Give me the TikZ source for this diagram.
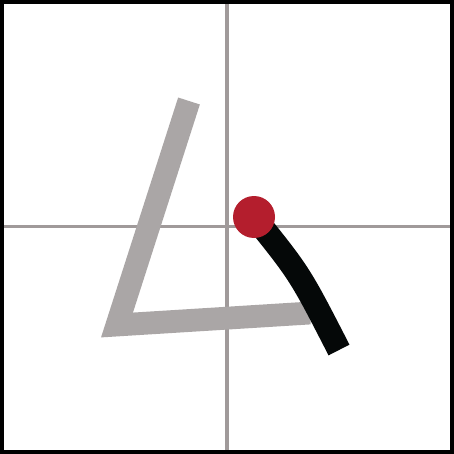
\documentclass[tikz,border=0pt]{standalone}
\definecolor{gridgray}{RGB}{160,154,154}
\definecolor{strokegray}{RGB}{170,166,166}
\definecolor{strokeblack}{RGB}{5,8,8}
\definecolor{dotred}{RGB}{180,30,45}
\tikzset{
  gridline/.style={draw=gridgray, line width=3.6pt},
  donestroke/.style={draw=strokegray, line width=22.8pt, line join=miter, line cap=butt},
  curstroke/.style={draw=strokeblack, line width=23.5pt, line cap=butt},
  startdot/.style={circle, fill=dotred, minimum size=42pt, inner sep=0pt}
}
\begin{document}
\begin{tikzpicture}[x=1pt, y=-1pt]
\useasboundingbox (0,0) rectangle (454,454);
\fill[white] (0,0) rectangle (454,454);
% grid
\draw[gridline] (227,0) -- (227,454);
\draw[gridline] (0,226.3) -- (454,226.3);
% previous stroke
\draw[donestroke] (189,101) -- (117,325) -- (310,313);
% current stroke
\draw[curstroke] (255,218) .. controls (300,274) .. (339,350);
\node[startdot] (dot) at (254,217) {};
% border
\draw[black, line width=3.6pt] (1.8,1.8) rectangle (452.2,452.2);
\end{tikzpicture}
\end{document}
